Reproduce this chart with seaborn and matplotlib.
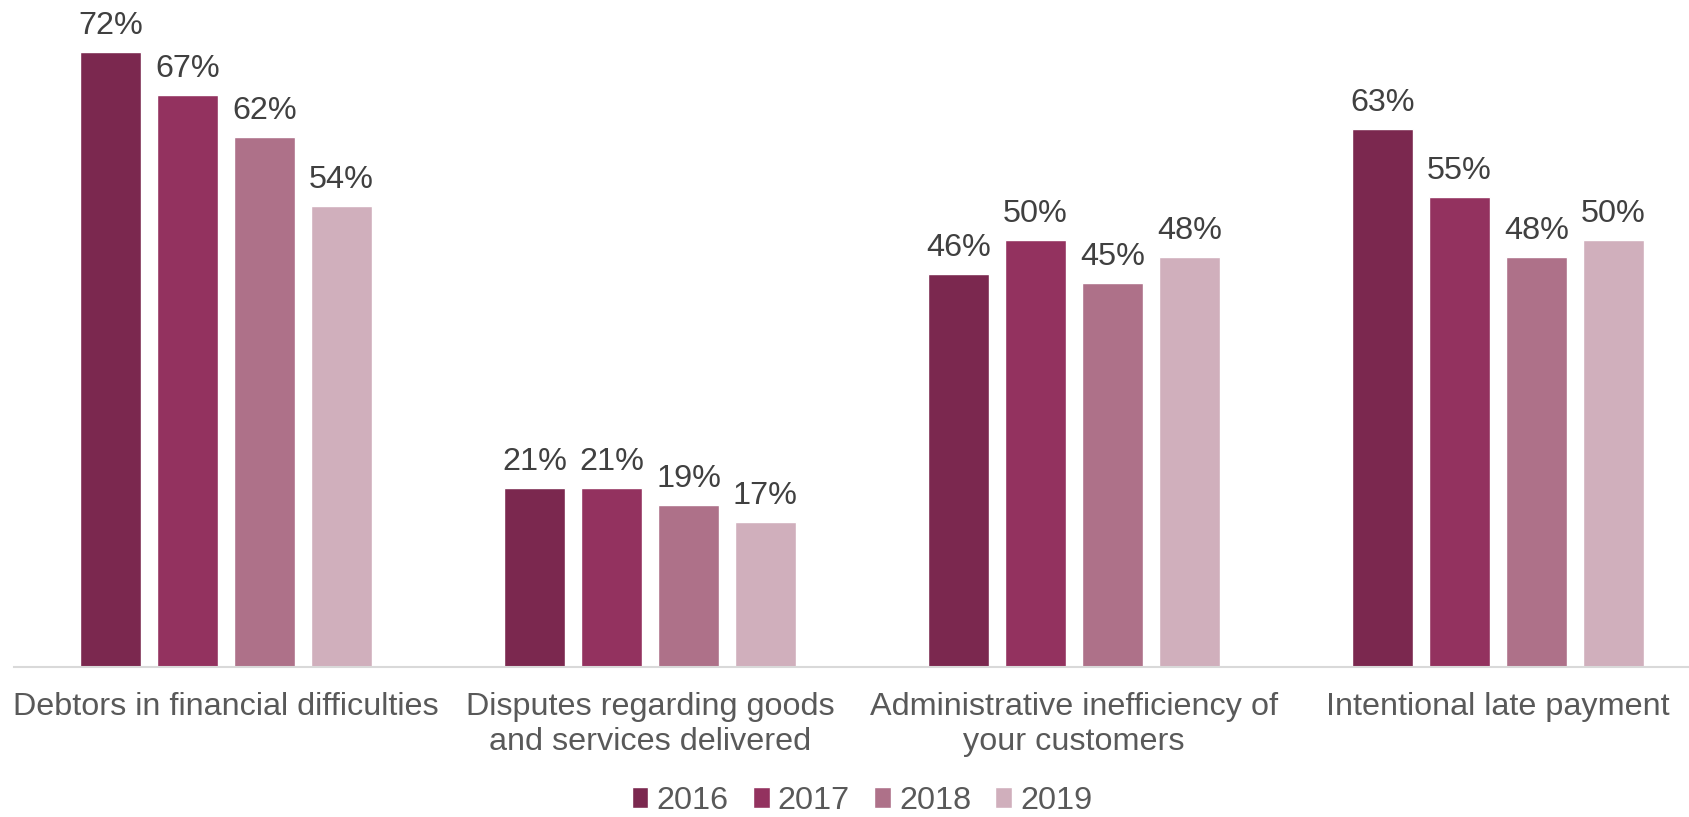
import matplotlib
matplotlib.use("Agg")
import matplotlib.pyplot as plt
import seaborn as sns
import pandas as pd

categories = [
    "Debtors in financial difficulties",
    "Disputes regarding goods\nand services delivered",
    "Administrative inefficiency of\nyour customers",
    "Intentional late payment",
]
years = ["2016", "2017", "2018", "2019"]
values_2016 = [72, 21, 46, 63]
values_2017 = [67, 21, 50, 55]
values_2018 = [62, 19, 45, 48]
values_2019 = [54, 17, 48, 50]
colors = ["#7B284F", "#93325F", "#AE7189", "#D0AFBC"]

series = [values_2016, values_2017, values_2018, values_2019]
df = pd.DataFrame(
    [(c, y, v) for y, vals in zip(years, series) for c, v in zip(categories, vals)],
    columns=["category", "year", "value"],
)

sns.set_theme(style="white")
plt.rcParams["font.family"] = ["Liberation Sans", "DejaVu Sans"]

FS = 23.3

fig = plt.figure(figsize=(16.89, 8.17), dpi=100)
ax = fig.add_axes([14 / 1689, 1 - 667 / 817, 1696 / 1689, 667 / 817])

sns.barplot(
    data=df, x="category", y="value", hue="year", palette=colors,
    width=0.726, gap=0.207, saturation=1, ax=ax, legend=True,
    order=categories, hue_order=years,
)

for cont in ax.containers:
    ax.bar_label(
        cont, labels=[f"{v:.0f}%" for v in cont.datavalues],
        padding=8, fontsize=FS, color="#404040",
    )

ax.set_xlim(-0.5, 3.5)
ax.set_ylim(0, 78.1)
ax.set_xlabel("")
ax.set_ylabel("")
ax.set_yticks([])
for s in ["top", "right", "left"]:
    ax.spines[s].set_visible(False)
ax.spines["bottom"].set_color("#D9D9D9")
ax.spines["bottom"].set_linewidth(1.5)
ax.tick_params(axis="x", length=0, pad=18, labelsize=FS, labelcolor="#595959")
for t in ax.get_xticklabels():
    t.set_linespacing(1.2)

handles, labels = ax.get_legend_handles_labels()
ax.get_legend().remove()
fig.legend(
    handles, labels, loc="center", bbox_to_anchor=(862 / 1689, 1 - 801 / 817),
    ncol=4, frameon=False, fontsize=FS, labelcolor="#595959",
    handlelength=0.52, handleheight=0.6, handletextpad=0.25, columnspacing=0.75,
)

fig.savefig("out.png", dpi=100)
